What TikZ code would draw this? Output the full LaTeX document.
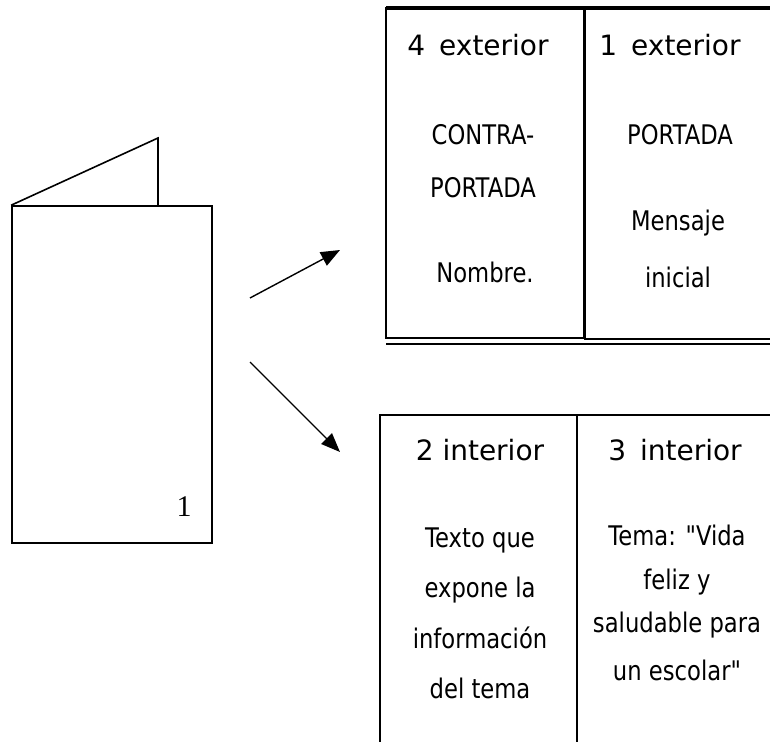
\documentclass[tikz,border=0pt]{standalone}
\usepackage{fontspec}
\setmainfont{DejaVu Sans}
\newfontfamily\bodyfont[FakeStretch=0.84]{DejaVu Sans}
\newfontfamily\numfont{Liberation Serif}
\usetikzlibrary{arrows.meta}
\begin{document}
\begin{tikzpicture}[x=1pt,y=-1pt,
  panel/.style={draw=black,line width=2pt,inner sep=0pt},
  head/.style={font=\fontsize{28}{32}\selectfont,inner sep=0pt,anchor=center},
  body/.style={font=\bodyfont\fontsize{27}{48}\selectfont,inner sep=0pt,anchor=center,align=center},
  arr/.style={line width=1.4pt,-{Triangle[length=19pt,width=15pt]}},
  sheet/.style={draw=black,line width=1.6pt}]
\useasboundingbox (0,0) rectangle (770,741);
% folded booklet
\node[sheet,minimum width=200pt,minimum height=337pt,inner sep=0pt] (booklet) at (112,374.5) {};
\coordinate (foldtop) at (158,138);
\coordinate (foldbase) at (158,206);
\draw[sheet] (booklet.north west) -- (foldtop) -- (foldbase);
\node[font=\numfont\fontsize{30}{34}\selectfont,inner sep=0pt] (pnum) at (184,507) {1};
% arrows
\coordinate (a1s) at (250,298);
\coordinate (a1e) at (340,250);
\coordinate (a2s) at (250,362);
\coordinate (a2e) at (340,452);
\draw[arr] (a1s) -- (a1e);
\draw[arr] (a2s) -- (a2e);
% top table (exterior)
\node[panel,minimum width=198pt,minimum height=330pt] (p4) at (485,173) {};
\node[panel,minimum width=220pt,minimum height=331pt] (p1) at (695,173.5) {};
\coordinate (ttl) at (386,8);
\coordinate (ttr) at (790,8);
\draw[line width=4pt] (ttl) -- (ttr);
\coordinate (tbl) at (386,344);
\coordinate (tbr) at (790,344);
\draw[line width=2pt] (tbl) -- (tbr);
\node[head] (h4) at (478,45) {4\,\,\,exterior};
\node[body] (c4a) at (483,135) {CONTRA-};
\node[body] (c4b) at (483,188) {PORTADA};
\node[body] (c4c) at (485,272) {Nombre.};
\node[head] (h1) at (670,45) {1\,\,\,exterior};
\node[body] (c1a) at (680,135) {PORTADA};
\node[body] (c1b) at (678,223) {Mensaje};
\node[body] (c1c) at (678,277) {inicial};
% bottom table (interior)
\node[panel,minimum width=197pt,minimum height=345pt] (p2) at (478.5,587.5) {};
\node[panel,minimum width=223pt,minimum height=345pt] (p3) at (688.5,587.5) {};
\node[head] (h2) at (480,450) {2 interior};
\node[head] (h3) at (675,450) {3\,\,\,interior};
\node[body] (b2a) at (480,540) {Texto que};
\node[body] (b2b) at (480,590) {expone la};
\node[body] (b2c) at (480,638) {información};
\node[body] (b2d) at (480,688) {del tema};
\node[body] (b3a) at (677,535) {Tema: "Vida};
\node[body] (b3b) at (677,582) {feliz y};
\node[body] (b3c) at (677,625) {saludable para};
\node[body] (b3d) at (677,670) {un escolar"};
\end{tikzpicture}
\end{document}
